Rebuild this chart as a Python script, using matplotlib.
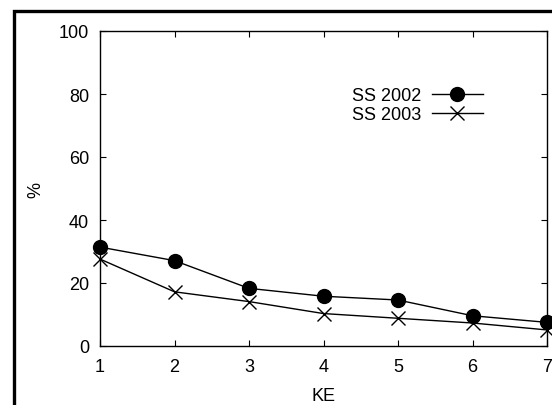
import matplotlib
matplotlib.use("Agg")
import matplotlib.pyplot as plt
from matplotlib.patches import Rectangle

ke = [1, 2, 3, 4, 5, 6, 7]
ss2002 = [31.4, 27.1, 18.3, 15.8, 14.6, 9.6, 7.5]
ss2003 = [27.6, 17.2, 14.1, 10.3, 8.8, 7.3, 5.1]
yticks = [0, 20, 40, 60, 80, 100]

plt.rcParams['font.family'] = ['Liberation Sans', 'DejaVu Sans']
W, H = 552, 406
fig = plt.figure(figsize=(W / 100, H / 100), dpi=100)
ax = fig.add_axes([100 / W, 1 - 347 / H, (547 - 100) / W, (347 - 32) / H])

ax.plot(ke, ss2002, color='black', lw=1, marker='o', markersize=10,
        markerfacecolor='black', markeredgecolor='black', clip_on=False, label='SS 2002')
ax.plot(ke, ss2003, color='black', lw=1, marker='x', markersize=10.5,
        markeredgewidth=1, clip_on=False, label='SS 2003')

ax.set_xlim(1, 7)
ax.set_ylim(0, 100)
ax.set_xticks(ke)
ax.set_yticks(yticks)
ax.tick_params(direction='in', top=True, right=True, labelsize=13, length=4, width=0.8)
ax.tick_params(axis='x', pad=9)
ax.tick_params(axis='y', pad=8)
for s in ax.spines.values():
    s.set_linewidth(1)
ax.set_xlabel('KE', fontsize=13, labelpad=8)
ax.set_ylabel('%', fontsize=13, labelpad=10)

leg = ax.legend(loc='upper right', bbox_to_anchor=((490 - 100) / 447, (347 - 81) / 315),
                frameon=False, fontsize=13, markerfirst=False, handlelength=2.8,
                handletextpad=0.6, labelspacing=0.12, borderaxespad=0)
for t in leg.get_texts():
    t.set_ha('right')

fig.patches.append(Rectangle((14 / W, -0.1), 1.2, (H - 12) / H + 0.1,
                             transform=fig.transFigure, fill=False,
                             edgecolor='black', lw=2.4, zorder=10))

fig.savefig('out.png', dpi=100)
